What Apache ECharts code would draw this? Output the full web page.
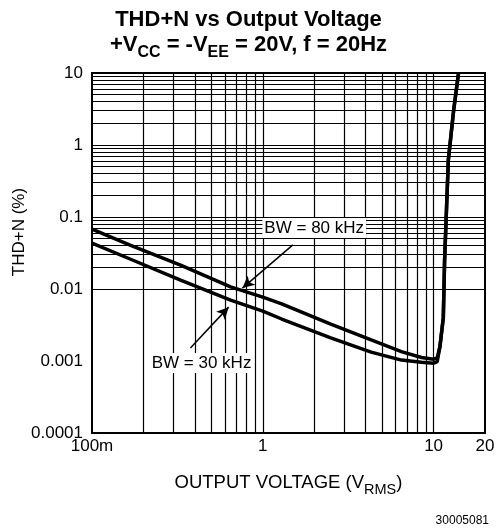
<!DOCTYPE html>
<html><head><meta charset="utf-8">
<script src="https://cdn.jsdelivr.net/npm/echarts@6/dist/echarts.min.js"></script>
<style>html,body{margin:0;padding:0;background:#fff}#c{width:497px;height:528px}</style>
</head><body><div id="c"></div>
<script>
// Output voltage (V RMS) and THD+N (%) for the two measurement bandwidths
const voltage80 = [0.1, 0.167, 0.33, 0.648, 1.0, 1.29, 2.5, 4.31, 6.48, 8.49, 10.0, 10.5, 10.9, 11.4, 11.6, 12.2, 13.1, 14.0];
const thd80     = [0.068, 0.0408, 0.0215, 0.0107, 0.0077, 0.0062, 0.00326, 0.00196, 0.00135, 0.00112, 0.00106, 0.0011, 0.0016, 0.004, 0.025, 0.62, 3.0, 10];
const voltage30 = [0.1, 0.167, 0.33, 0.648, 1.0, 1.29, 2.5, 4.31, 6.48, 8.49, 10.0, 10.5, 10.9, 11.4, 11.6, 12.2, 13.1, 14.0];
const thd30     = [0.0435, 0.0261, 0.0133, 0.0070, 0.00494, 0.00383, 0.0021, 0.00133, 0.00103, 0.00096, 0.00093, 0.00098, 0.0016, 0.004, 0.025, 0.62, 3.0, 10];

const xTickLabels = {"0.1": "100m", "1": "1", "10": "10", "20": "20"};
const yTickLabels = ["0.0001", "0.001", "0.01", "0.1", "1", "10"];
const xGridValues = [0.2,0.3,0.4,0.5,0.6,0.7,0.8,0.9,1,2,3,4,5,6,7,8,9,10];
const yGridValues = [];
for (let k = -4; k <= 0; k++) for (let m = 1; m <= 9; m++) { if (k === -4 && m === 1) continue; yGridValues.push(+(m * Math.pow(10, k)).toPrecision(3)); }

const annotationTexts = ["BW = 80 kHz", "BW = 30 kHz"];
const annotationAt = [[2.0, 0.0704], [0.438, 0.00094]];
const arrowFrom = [[1.5, 0.041], [0.377, 0.00152]];
const arrowTo   = [[0.76, 0.0103], [0.631, 0.0056]];

const FONT = "'Liberation Sans', Arial, sans-serif";
const chart = echarts.init(document.getElementById('c'), null, {renderer: 'canvas'});

function zip(a, b) { return a.map((v, i) => [v, b[i]]); }

chart.setOption({
  animation: false,
  backgroundColor: '#fff',
  textStyle: {fontFamily: FONT, color: '#000'},
  title: [
    {text: 'THD+N vs Output Voltage', left: 'center', top: 4,
     textStyle: {fontFamily: FONT, fontSize: 22, fontWeight: 'bold', color: '#000'}},
    {text: '{m|+V}{s|CC}{m| = -V}{s|EE}{m| = 20V, f = 20Hz}', left: 'center', top: 23,
     textStyle: {fontFamily: FONT, fontSize: 22, fontWeight: 'bold', color: '#000',
       rich: {
         m: {fontFamily: FONT, fontSize: 22, fontWeight: 'bold', color: '#000', verticalAlign: 'middle'},
         s: {fontFamily: FONT, fontSize: 16, fontWeight: 'bold', color: '#000', verticalAlign: 'middle', padding: [17, 0, 0, 0]}
       }}},
    {text: '30005081', right: 3, top: 510,
     textStyle: {fontFamily: FONT, fontSize: 12, fontWeight: 'normal', color: '#000'}}
  ],
  grid: {left: 92, right: 12, top: 73, bottom: 95, show: true, borderColor: '#000', borderWidth: 2,
         backgroundColor: 'transparent', containLabel: false, outerBoundsMode: 'none'},
  xAxis: {
    type: 'log', logBase: 10, min: 0.1, max: 20,
    name: 'OUTPUT VOLTAGE (V{s|RMS})', nameLocation: 'middle', nameGap: 36, nameMoveOverlap: false,
    nameTextStyle: {fontFamily: FONT, fontSize: 18.5, color: '#000',
      rich: {s: {fontFamily: FONT, fontSize: 14.5, color: '#000', padding: [13, 0, 0, 0]}}},
    axisLine: {show: true, lineStyle: {color: '#000', width: 2}},
    axisTick: {show: false},
    splitLine: {show: false},
    axisLabel: {fontFamily: FONT, fontSize: 17, color: '#000', margin: 5,
      formatter: v => { const key = String(+v.toPrecision(3)); return xTickLabels[key] !== undefined ? xTickLabels[key] : ''; }}
  },
  yAxis: {
    type: 'log', logBase: 10, min: 0.0001, max: 10,
    name: 'THD+N (%)', nameLocation: 'middle', nameGap: 64, nameMoveOverlap: false,
    nameTextStyle: {fontFamily: FONT, fontSize: 17, color: '#000', padding: [0, 0, 0, 42]},
    axisLine: {show: true, lineStyle: {color: '#000', width: 2}},
    axisTick: {show: false},
    splitLine: {show: false},
    axisLabel: {fontFamily: FONT, fontSize: 17, color: '#000', margin: 9,
      formatter: v => { const i = Math.round(Math.log10(v)) + 4; return yTickLabels[i] || ''; }}
  },
  series: [
    {
      name: 'gridlines', type: 'line', data: [[0.1, 0.0001]], symbol: 'none', silent: true, z: 1,
      lineStyle: {width: 0},
      markLine: {
        silent: true, animation: false, symbol: ['none', 'none'],
        label: {show: false},
        lineStyle: {color: '#000', width: 1.2, type: 'solid'},
        emphasis: {disabled: true},
        data: xGridValues.map(v => ({xAxis: v})).concat(yGridValues.map(v => ({yAxis: v})))
      }
    },
    {
      name: 'annotations', type: 'line', data: [[0.1, 0.0001]], symbol: 'none', silent: true, z: 4,
      lineStyle: {width: 0},
      markLine: {
        silent: true, animation: false, symbol: ['none', 'arrow'], symbolSize: [9, 12],
        label: {show: false},
        lineStyle: {color: '#000', width: 1.5, type: 'solid'},
        emphasis: {disabled: true},
        data: arrowFrom.map((f, i) => [{coord: f}, {coord: arrowTo[i]}])
      },
      markPoint: {
        silent: true, animation: false, symbol: 'rect', symbolSize: 1,
        itemStyle: {color: 'rgba(0,0,0,0)'},
        data: annotationAt.map((c, i) => ({coord: c, value: i,
          label: {show: true, position: 'inside', formatter: annotationTexts[i], fontFamily: FONT, fontSize: 17,
                  color: '#000', backgroundColor: '#fff', padding: [2, 2, 1, 2]}}))
      }
    },
    {
      name: 'BW = 80 kHz', type: 'line', data: zip(voltage80, thd80), symbol: 'none', z: 5, clip: true,
      lineStyle: {color: '#000', width: 3.5}
    },
    {
      name: 'BW = 30 kHz', type: 'line', data: zip(voltage30, thd30), symbol: 'none', z: 5, clip: true,
      lineStyle: {color: '#000', width: 3.5}
    }
  ]
});
</script>
</body></html>
